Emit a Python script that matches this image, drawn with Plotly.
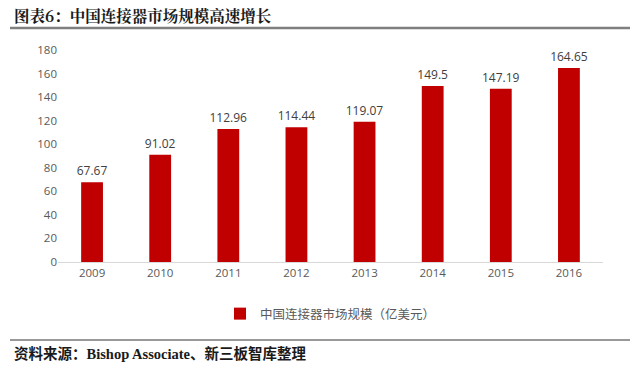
import plotly.graph_objects as go

years = ["2009", "2010", "2011", "2012", "2013", "2014", "2015", "2016"]
market_size = [67.67, 91.02, 112.96, 114.44, 119.07, 149.5, 147.19, 164.65]
value_labels = ["67.67", "91.02", "112.96", "114.44", "119.07", "149.5", "147.19", "164.65"]
y_ticks = [0, 20, 40, 60, 80, 100, 120, 140, 160, 180]

W, H = 640, 367
ML, MR, MT, MB = 58, 37, 50, 105
PW, PH = W - ML - MR, H - MT - MB

def px(x):
    return (x - ML) / PW

def py(y):
    return (H - MB - y) / PH

fig = go.Figure()
fig.add_trace(go.Bar(
    x=years, y=market_size,
    name="中国连接器市场规模（亿美元）",
    marker=dict(color="#c00000", line=dict(width=0)),
    width=0.32,
    text=value_labels, textposition="outside", constraintext="none",
    textfont=dict(family="Open Sans, Liberation Sans, sans-serif", size=12, color="#404040"),
    cliponaxis=False,
))

fig.update_layout(
    width=W, height=H,
    margin=dict(l=ML, r=MR, t=MT, b=MB, autoexpand=False),
    plot_bgcolor="white", paper_bgcolor="white",
    showlegend=True,
    legend=dict(orientation="h", x=0.5, xanchor="center", yref="container",
                y=1 - 314 / H, yanchor="middle",
                font=dict(family="Noto Sans CJK SC", size=12.5, color="#595959"),
                itemwidth=30),
    xaxis=dict(showgrid=False, showline=True, linecolor="#d9d9d9", linewidth=1,
               ticks="", tickfont=dict(family="Open Sans, Liberation Sans, sans-serif", size=11.5, color="#595959")),
    yaxis=dict(range=[0, 180], tickvals=y_ticks, showgrid=False, zeroline=False,
               showline=False, ticks="",
               tickfont=dict(family="Open Sans, Liberation Sans, sans-serif", size=11.5, color="#595959")),
)

fig.add_annotation(text="<b>图表6：中国连接器市场规模高速增长</b>", xref="paper", yref="paper",
                   x=px(12), y=py(15), xanchor="left", yanchor="middle", showarrow=False,
                   font=dict(family="Noto Serif CJK SC, Noto Sans CJK SC", size=15.5, color="#1a1a1a"))
fig.add_shape(type="line", xref="paper", yref="paper", x0=px(10), x1=px(630), y0=py(28), y1=py(28),
              line=dict(color="#7f7f7f", width=2.5))
fig.add_shape(type="line", xref="paper", yref="paper", x0=px(10), x1=px(630), y0=py(340), y1=py(340),
              line=dict(color="#333333", width=1))
fig.add_annotation(text="<b>资料来源：Bishop Associate、新三板智库整理</b>", xref="paper", yref="paper",
                   x=px(12), y=py(353), xanchor="left", yanchor="middle", showarrow=False,
                   font=dict(family="Liberation Serif, Noto Sans CJK SC", size=14.5, color="#1a1a1a"))

fig.write_html("out.html", config={"displayModeBar": False},
               post_script="document.body.style.margin='0';document.body.style.overflow='hidden';")
